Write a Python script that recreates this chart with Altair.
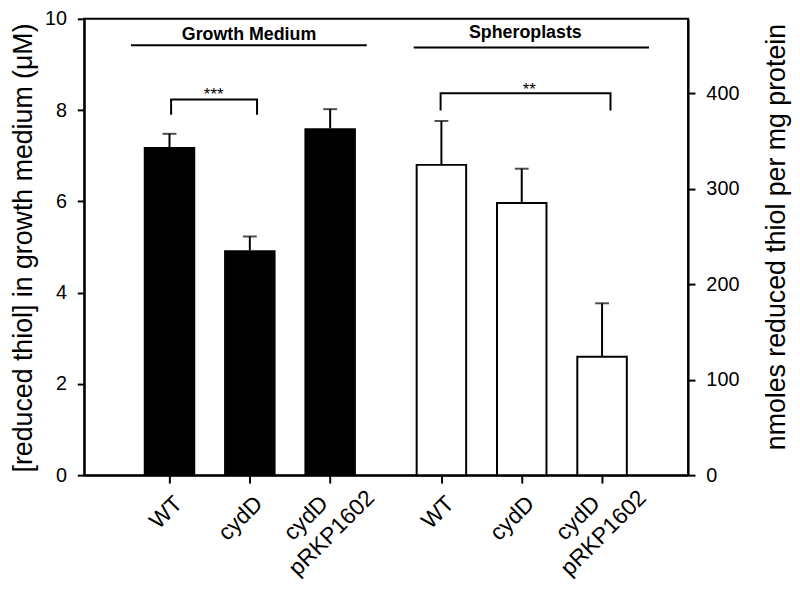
import altair as alt
import pandas as pd

# ---------------- data ----------------
strains = ["WT", "cydD", "cydD pRKP1602"]
label_line1 = ["WT", "cydD", "cydD"]
label_line2 = ["", "", "pRKP1602"]
medium_mean = [7.19, 4.93, 7.60]      # µM (left axis)
medium_err = [0.29, 0.30, 0.42]
sphero_mean = [325, 285, 124]         # nmoles / mg protein (right axis)
sphero_err = [46, 36, 56]

slots = [1, 2, 3]
group_shift = 3.385
x_max = 7.394

# annotation anchors (data units)
gm_line_x = [0.52, 3.455]; gm_line_y = 9.42; gm_text_x = 1.99; gm_text_y = 9.54
sp_line_x = [4.04, 6.97]; sp_line_y = 448; sp_text_x = 5.43; sp_text_y = 458
br1_x = [1.02, 2.09]; br1_y = [7.9, 8.23]; br1_star = (1.55, 8.22)
br2_x = [4.375, 6.49]; br2_y = [382, 400]; br2_star = (5.48, 398)

FONT = "Liberation Sans"

med = pd.DataFrame({"strain": strains, "pos": slots, "mean": medium_mean, "err": medium_err})
med["top"] = med["mean"] + med["err"]
sph = pd.DataFrame({"strain": strains, "pos": [s + group_shift for s in slots],
                    "mean": sphero_mean, "err": sphero_err})
sph["top"] = sph["mean"] + sph["err"]

all_pos = list(med["pos"]) + list(sph["pos"])
labels = pd.DataFrame({"pos": all_pos, "l1": label_line1 * 2, "l2": label_line2 * 2})
labels["two"] = labels["l2"] != ""

# ---------------- scales / axes ----------------
xs = alt.Scale(domain=[0, x_max], nice=False, zero=False)
xaxis = alt.Axis(values=all_pos, labels=False, title=None, grid=False, tickSize=8)

def X(field):
    return alt.X(f"{field}:Q", scale=xs, axis=xaxis)

ys_l = alt.Scale(domain=[0, 10], nice=False)
yaxis_l = alt.Axis(values=[0, 2, 4, 6, 8, 10], grid=False,
                   title="[reduced thiol] in growth medium (μM)",
                   titleFontSize=27, titleFont=FONT, titleFontWeight="normal",
                   titleAngle=270, titleX=-53, titleY=231, titleBaseline="alphabetic",
                   titleAlign="center")
ys_r = alt.Scale(domain=[0, 478], nice=False)
yaxis_r = alt.Axis(values=[0, 100, 200, 300, 400], grid=False, orient="right",
                   title="nmoles reduced thiol per mg protein",
                   titleFontSize=27, titleFont=FONT, titleFontWeight="normal",
                   titleAngle=270, titleX=97, titleY=220, titleBaseline="alphabetic",
                   titleAlign="center")

def YL(field):
    return alt.Y(f"{field}:Q", scale=ys_l, axis=yaxis_l)

def YR(field):
    return alt.Y(f"{field}:Q", scale=ys_r, axis=yaxis_r)

# ---------------- left (growth medium) layer ----------------
m = alt.Chart(med)
bars_l = m.mark_bar(color="black", size=52).encode(x=X("pos"), y=YL("mean"))
err_l = m.mark_rule(color="black", strokeWidth=2).encode(x=X("pos"), y=YL("mean"), y2="top")
cap_l = m.mark_tick(color="black", orient="horizontal", size=14, thickness=2).encode(x=X("pos"), y=YL("top"))

gm_line = alt.Chart(pd.DataFrame({"x": [gm_line_x[0]], "x2": [gm_line_x[1]], "y": [gm_line_y]})).mark_rule(
    color="black", strokeWidth=2).encode(x=X("x"), x2="x2", y=YL("y"))
gm_text = alt.Chart(pd.DataFrame({"x": [gm_text_x], "y": [gm_text_y], "t": ["Growth Medium"]})).mark_text(
    font=FONT, fontSize=18, fontWeight="bold", baseline="alphabetic", color="black").encode(
    x=X("x"), y=YL("y"), text="t")

br1 = pd.DataFrame({"x": [br1_x[0], br1_x[0], br1_x[1], br1_x[1]],
                    "y": [br1_y[0], br1_y[1], br1_y[1], br1_y[0]], "o": [0, 1, 2, 3]})
br1_line = alt.Chart(br1).mark_line(color="black", strokeWidth=2).encode(x=X("x"), y=YL("y"), order="o:Q")
br1_txt = alt.Chart(pd.DataFrame({"x": [br1_star[0]], "y": [br1_star[1]], "t": ["***"]})).mark_text(
    font=FONT, fontSize=17, baseline="alphabetic", color="black").encode(x=X("x"), y=YL("y"), text="t")

lab = alt.Chart(labels)
lab_single = lab.transform_filter("!datum.two").mark_text(
    font=FONT, fontSize=23, angle=315, align="right", baseline="top", dx=-5, dy=7, color="black").encode(
    x=X("pos"), y=alt.value(470), text="l1:N")
lab_l1 = lab.transform_filter("datum.two").mark_text(
    font=FONT, fontSize=23, angle=315, align="right", baseline="top", dx=-16, dy=-3, color="black").encode(
    x=X("pos"), y=alt.value(469), text="l1:N")
lab_l2 = lab.transform_filter("datum.two").mark_text(
    font=FONT, fontSize=23, angle=315, align="right", baseline="top", dx=21, dy=26, color="black").encode(
    x=X("pos"), y=alt.value(469), text="l2:N")

left = alt.layer(bars_l, err_l, cap_l, gm_line, gm_text, br1_line, br1_txt, lab_single, lab_l1, lab_l2)

# ---------------- right (spheroplasts) layer ----------------
s = alt.Chart(sph)
bars_r = s.mark_bar(color="white", stroke="black", strokeWidth=2, size=50).encode(x=X("pos"), y=YR("mean"))
err_r = s.mark_rule(color="black", strokeWidth=2).encode(x=X("pos"), y=YR("mean"), y2="top")
cap_r = s.mark_tick(color="black", orient="horizontal", size=14, thickness=2).encode(x=X("pos"), y=YR("top"))

sp_line = alt.Chart(pd.DataFrame({"x": [sp_line_x[0]], "x2": [sp_line_x[1]], "y": [sp_line_y]})).mark_rule(
    color="black", strokeWidth=2).encode(x=X("x"), x2="x2", y=YR("y"))
sp_text = alt.Chart(pd.DataFrame({"x": [sp_text_x], "y": [sp_text_y], "t": ["Spheroplasts"]})).mark_text(
    font=FONT, fontSize=18, fontWeight="bold", baseline="alphabetic", color="black").encode(
    x=X("x"), y=YR("y"), text="t")

br2 = pd.DataFrame({"x": [br2_x[0], br2_x[0], br2_x[1], br2_x[1]],
                    "y": [br2_y[0], br2_y[1], br2_y[1], br2_y[0]], "o": [0, 1, 2, 3]})
br2_line = alt.Chart(br2).mark_line(color="black", strokeWidth=2).encode(x=X("x"), y=YR("y"), order="o:Q")
br2_txt = alt.Chart(pd.DataFrame({"x": [br2_star[0]], "y": [br2_star[1]], "t": ["**"]})).mark_text(
    font=FONT, fontSize=17, baseline="alphabetic", color="black").encode(x=X("x"), y=YR("y"), text="t")

right = alt.layer(bars_r, err_r, cap_r, sp_line, sp_text, br2_line, br2_txt)

chart = alt.layer(left, right).resolve_scale(y="independent").properties(
    width=610, height=461,
    padding={"left": 77, "top": 8, "right": 105, "bottom": 104},
    autosize=alt.AutoSizeParams(type="none"),
    background="white",
).configure_view(stroke="black", strokeWidth=2).configure_axis(
    labelFont=FONT, labelFontSize=20, labelColor="black", labelPadding=11,
    tickColor="black", tickWidth=2, tickSize=7,
    domainColor="black", domainWidth=2, titleColor="black",
)

chart.save("out.html", embed_options={"renderer": "svg", "actions": False})
